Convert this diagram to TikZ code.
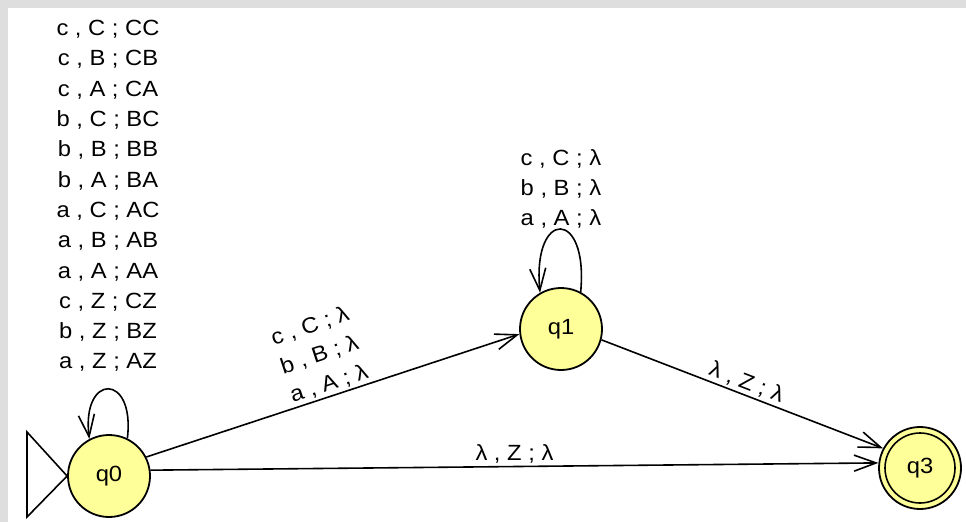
\documentclass[tikz,border=0pt]{standalone}
\usepackage{fontspec}
\setmainfont{Liberation Sans}[FakeStretch=1.08]
\usetikzlibrary{arrows.meta}
\definecolor{gelb}{RGB}{255,255,153}
\definecolor{rahmen}{RGB}{222,222,222}

\begin{document}
\begin{tikzpicture}[x=1pt, y=-1pt,
	zustand/.style={circle, draw, line width=1.8pt, fill=gelb, minimum size=82pt, inner sep=0pt, font=\fontsize{22}{26}\selectfont},
	kante/.style={line width=1.6pt, -{Straight Barb[length=22pt, width=16pt]}},
	beschriftung/.style={align=center, inner sep=2pt, font=\fontsize{22}{30.3}\selectfont}]
	\useasboundingbox (0,0) rectangle (966,522);
	\fill[rahmen] (0,0) rectangle (966,522);%Rahmen oben und links
	\fill[white] (8,8) rectangle (966,522);
	
	\node[zustand] (q0) at (109,476) {q0};
	\node[zustand] (q1) at (561,329) {q1};
	\node[zustand] (q3) at (920,468) {q3};
	\draw[line width=1.6pt] (q3.center) circle (35pt);%Endzustand
	
	%Startpfeil
	\draw[line width=1.6pt, fill=white] (27,432) -- (27,517) -- (q0.west) -- cycle;
	
	%Schleifen
	\draw[kante] (q0.64) .. controls +(8,-66) and +(-8,-66) .. (q0.118);
	\node[beschriftung] (l0) at (108,196) {c , C ; CC\\ c , B ; CB\\ c , A ; CA\\ b , C ; BC\\ b , B ; BB\\ b , A ; BA\\ a , C ; AC\\ a , B ; AB\\ a , A ; AA\\ c , Z ; CZ\\ b , Z ; BZ\\ a , Z ; AZ};
	\draw[kante] (q1.62) .. controls +(8,-84) and +(-8,-84) .. (q1.120);
	\node[beschriftung] (l1) at (561,189) {c , C ; λ\\ b , B ; λ\\ a , A ; λ};
	
	%Uebergaenge
	\draw[kante] (q0.27) -- (q1.187) node[midway, sloped, above, beschriftung] (l01) {c , C ; λ\\ b , B ; λ\\ a , A ; λ};
	\draw[kante] (q0.8) -- (q3.173) node[midway, above, beschriftung] (l03) {λ , Z ; λ};
	\draw[kante] (q1.-15) -- (q3.152) node[midway, sloped, above, beschriftung] (l13) {λ , Z ; λ};
\end{tikzpicture}
\end{document}
